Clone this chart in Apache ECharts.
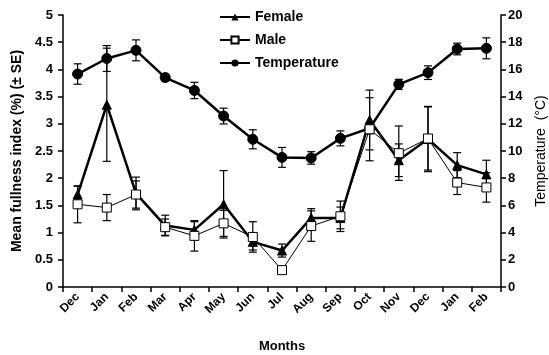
<!DOCTYPE html>
<html>
<head>
<meta charset="utf-8">
<script src="https://cdn.jsdelivr.net/npm/echarts@6/dist/echarts.min.js"></script>
<style>
html,body{margin:0;padding:0;background:#fff;}
#c{width:549px;height:355px;}
</style>
</head>
<body>
<div id="c"></div>
<script>
var months = ['Dec','Jan','Feb','Mar','Apr','May','Jun','Jul','Aug','Sep','Oct','Nov','Dec','Jan','Feb'];
var female = [1.70, 3.35, 1.72, 1.13, 1.05, 1.52, 0.83, 0.67, 1.27, 1.27, 3.07, 2.33, 2.72, 2.24, 2.07];
var femaleSE = [0.15, 1.04, 0.30, 0.19, 0.15, 0.62, 0.15, 0.12, 0.17, 0.20, 0.55, 0.30, 0.60, 0.23, 0.26];
var male = [1.52, 1.46, 1.70, 1.10, 0.94, 1.17, 0.92, 0.31, 1.12, 1.30, 2.90, 2.46, 2.73, 1.92, 1.83];
var maleSE = [0.34, 0.24, 0.25, 0.15, 0.28, 0.24, 0.28, 0.06, 0.28, 0.28, 0.58, 0.50, 0.58, 0.22, 0.27];
var temperature = [15.66, 16.8, 17.4, 15.4, 14.45, 12.57, 10.86, 9.53, 9.49, 10.93, 11.67, 14.9, 15.76, 17.5, 17.55];
var temperatureSE = [0.75, 0.95, 0.77, 0.25, 0.6, 0.58, 0.7, 0.73, 0.46, 0.55, 0.4, 0.37, 0.5, 0.43, 0.77];

var FONT = 'Liberation Sans, Arial, sans-serif';

function errSeries(vals, errs, yIdx, w) {
  return {
    type: 'custom',
    yAxisIndex: yIdx,
    silent: true,
    z: 1,
    data: vals.map(function (v, i) { return [i, v - errs[i], v + errs[i]]; }),
    renderItem: function (params, api) {
      var lo = api.coord([api.value(0), api.value(1)]);
      var hi = api.coord([api.value(0), api.value(2)]);
      var cap = 4;
      var st = { stroke: '#000', lineWidth: w };
      return {
        type: 'group',
        children: [
          { type: 'line', shape: { x1: lo[0], y1: lo[1], x2: hi[0], y2: hi[1] }, style: st },
          { type: 'line', shape: { x1: lo[0] - cap, y1: lo[1], x2: lo[0] + cap, y2: lo[1] }, style: st },
          { type: 'line', shape: { x1: hi[0] - cap, y1: hi[1], x2: hi[0] + cap, y2: hi[1] }, style: st }
        ]
      };
    }
  };
}

var chart = echarts.init(document.getElementById('c'), null, { renderer: 'canvas' });
chart.setOption({
  animation: false,
  backgroundColor: '#fff',
  textStyle: { fontFamily: FONT },
  grid: { left: 63, right: 48, top: 15, bottom: 68, containLabel: false, outerBoundsMode: 'none' },
  legend: {
    data: ['Female', 'Male', 'Temperature'],
    orient: 'vertical',
    left: 214,
    top: 5,
    itemWidth: 30,
    itemHeight: 9,
    itemGap: 9,
    textStyle: { fontFamily: FONT, fontWeight: 'bold', fontSize: 14, color: '#000' }
  },
  xAxis: {
    type: 'category',
    data: months,
    boundaryGap: true,
    name: 'Months',
    nameLocation: 'middle',
    nameGap: 53,
    nameTextStyle: { fontFamily: FONT, fontWeight: 'bold', fontSize: 13, color: '#000' },
    axisLine: { lineStyle: { color: '#000', width: 1.5 } },
    axisTick: { show: true, length: 5, lineStyle: { color: '#000', width: 1.5 } },
    axisLabel: { rotate: 45, fontFamily: FONT, fontWeight: 'bold', fontSize: 12, color: '#000', margin: 8 },
    splitLine: { show: false }
  },
  yAxis: [
    {
      type: 'value', min: 0, max: 5, interval: 0.5,
      name: 'Mean fullness index (%) (\u00b1 SE)',
      nameLocation: 'middle', nameGap: 38, nameRotate: 90,
      nameTextStyle: { fontFamily: FONT, fontWeight: 'bold', fontSize: 14, color: '#000' },
      axisLine: { show: true, lineStyle: { color: '#000', width: 1.5 } },
      axisTick: { show: true, length: 5, lineStyle: { color: '#000', width: 1.5 } },
      axisLabel: { fontFamily: FONT, fontWeight: 'bold', fontSize: 13, color: '#000', margin: 10 },
      splitLine: { show: false }
    },
    {
      type: 'value', min: 0, max: 20, interval: 2,
      position: 'right',
      name: 'Temperature  (\u00b0C)',
      nameLocation: 'middle', nameGap: 33, nameRotate: 90,
      nameTextStyle: { fontFamily: FONT, fontSize: 14, color: '#000' },
      axisLine: { show: true, lineStyle: { color: '#000', width: 1.5 } },
      axisTick: { show: true, length: 5, lineStyle: { color: '#000', width: 1.5 } },
      axisLabel: { fontFamily: FONT, fontWeight: 'bold', fontSize: 13, color: '#000', margin: 7 },
      splitLine: { show: false }
    }
  ],
  series: [
    errSeries(female, femaleSE, 0, 1.2),
    errSeries(male, maleSE, 0, 1.2),
    errSeries(temperature, temperatureSE, 1, 1.2),
    {
      name: 'Female', type: 'line', yAxisIndex: 0, data: female,
      symbol: 'triangle', symbolSize: 9, z: 3,
      lineStyle: { color: '#000', width: 2.5 },
      itemStyle: { color: '#000', borderColor: '#000' }
    },
    {
      name: 'Male', type: 'line', yAxisIndex: 0, data: male,
      symbol: 'rect', symbolSize: 9, z: 4,
      lineStyle: { color: '#000', width: 1 },
      itemStyle: { color: '#fff', borderColor: '#000', borderWidth: 1 }
    },
    {
      name: 'Temperature', type: 'line', yAxisIndex: 1, data: temperature,
      symbol: 'circle', symbolSize: 10, z: 3,
      lineStyle: { color: '#000', width: 2.5 },
      itemStyle: { color: '#000', borderColor: '#000' }
    }
  ]
});
</script>
</body>
</html>
